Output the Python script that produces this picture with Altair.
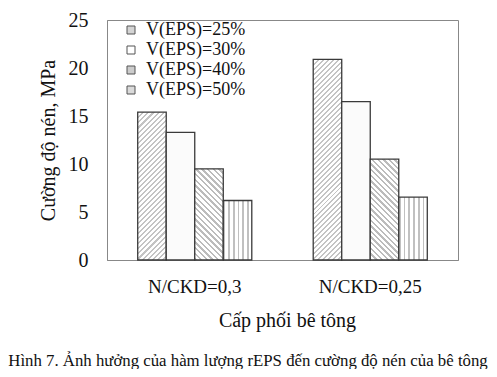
import altair as alt
import pandas as pd

# ---- data ----
groups = ["N/CKD=0,3", "N/CKD=0,25"]
series = ["V(EPS)=25%", "V(EPS)=30%", "V(EPS)=40%", "V(EPS)=50%"]
vals_g1 = [15.4, 13.3, 9.5, 6.2]
vals_g2 = [20.9, 16.5, 10.5, 6.55]
y_ticks = [0, 5, 10, 15, 20, 25]

rows = []
for g, vals in zip(groups, [vals_g1, vals_g2]):
    for s, v in zip(series, vals):
        rows.append({"grp": g, "V": s, "val": v})
df = pd.DataFrame(rows)

# ---- layout ----
W, H = 351, 240
YMAX = 25
P_IN, P_OUT = 0.35, 0.175
step = W / (2 - P_IN + 2 * P_OUT)
bar_w = step * (1 - P_IN) / len(series)
FONT = "Liberation Serif"
TXT = "#111111"


def stripe_stops(n, frac, line, bg="#ffffff"):
    stops = []
    for k in range(n):
        a = k / n
        b = (k + frac) / n
        c = (k + 1) / n
        stops += [
            {"offset": round(a, 5), "color": line},
            {"offset": round(b, 5), "color": line},
            {"offset": round(b, 5), "color": bg},
            {"offset": round(c, 5), "color": bg},
        ]
    return stops


def diag(w, h, period, frac, line, up=True):
    r = h / w
    a = (1 + r) / (1 + r * r)
    b = a * r
    n = max(1, round((w + h) / period))
    g = {"gradient": "linear", "stops": stripe_stops(n, frac, line)}
    if up:
        g.update(x1=0, y1=0, x2=round(a, 5), y2=round(b, 5))
    else:
        g.update(x1=0, y1=1, x2=round(a, 5), y2=round(1 - b, 5))
    return g


def vert(w, period, frac, line):
    n = max(1, round(w / period))
    return {"gradient": "linear", "x1": 0, "y1": 0, "x2": 1, "y2": 0,
            "stops": stripe_stops(n, frac, line)}


conds = []
for g, vals in zip(groups, [vals_g1, vals_g2]):
    for i, (s, v) in enumerate(zip(series, vals)):
        h = v / YMAX * H
        if i == 0:
            val = diag(bar_w, h, 5.0, 0.4, "#c4c4c4", up=True)
        elif i == 1:
            val = "#fbfbfb"
        elif i == 2:
            val = diag(bar_w, h, 5.6, 0.42, "#bcbcbc", up=False)
        else:
            val = vert(bar_w, 4.6, 0.4, "#c0c0c0")
        conds.append({"test": f"datum.grp === '{g}' && datum.V === '{s}'", "value": val})

legend_cols = ["#d4d4d4", "#ffffff", "#cccccc", "#dadada"]

chart = alt.Chart(df).mark_bar(stroke="#3a3a3a", strokeWidth=1.3).encode(
    x=alt.X("grp:N", sort=groups,
            scale=alt.Scale(paddingInner=P_IN, paddingOuter=P_OUT),
            axis=alt.Axis(title="Cấp phối bê tông", labelAngle=0, ticks=False,
                          labelFont=FONT, titleFont=FONT,
                          labelFontSize=19, labelPadding=17, labelColor=TXT,
                          titleFontSize=20, titleFontWeight="normal", titleColor=TXT,
                          titlePadding=14, titleX=180, titleAlign="center",
                          domainColor="#888")),
    xOffset=alt.XOffset("V:N", sort=series,
                        scale=alt.Scale(paddingInner=0, paddingOuter=0)),
    y=alt.Y("val:Q", scale=alt.Scale(domain=[0, YMAX], nice=False),
            axis=alt.Axis(title="Cường độ nén, MPa", values=y_ticks, grid=False,
                          labelFont=FONT, titleFont=FONT,
                          ticks=False, tickSize=0, labelFontSize=20, labelPadding=19,
                          labelColor=TXT, titleFontSize=20, titleFontWeight="normal",
                          titleColor=TXT, titlePadding=10, domainColor="#888")),
    fill=alt.Fill("V:N", sort=series,
                  scale=alt.Scale(domain=series, range=legend_cols),
                  legend=alt.Legend(title=None, orient="none", legendX=15, legendY=1,
                                    symbolType="square", symbolSize=64,
                                    symbolStrokeColor="#555", symbolStrokeWidth=1,
                                    labelFont=FONT,
                                    labelFontSize=18, labelOffset=6, rowPadding=2,
                                    labelColor=TXT, padding=0),
                  condition=conds),
).properties(
    width=W, height=H,
    autosize=alt.AutoSizeParams(type="none"),
    padding={"left": 99, "top": 12, "right": 31, "bottom": 109},
    title=alt.TitleParams(
        "Hình 7. Ảnh hưởng của hàm lượng rEPS đến cường độ nén của bê tông",
        orient="bottom", anchor="middle", frame="bounds", fontSize=16.8,
        fontWeight="normal", color=TXT, offset=23, font=FONT),
).configure(font=FONT).configure_view(stroke="#888", strokeWidth=1)

chart.save("out.html", embed_options={"renderer": "svg", "actions": False})
